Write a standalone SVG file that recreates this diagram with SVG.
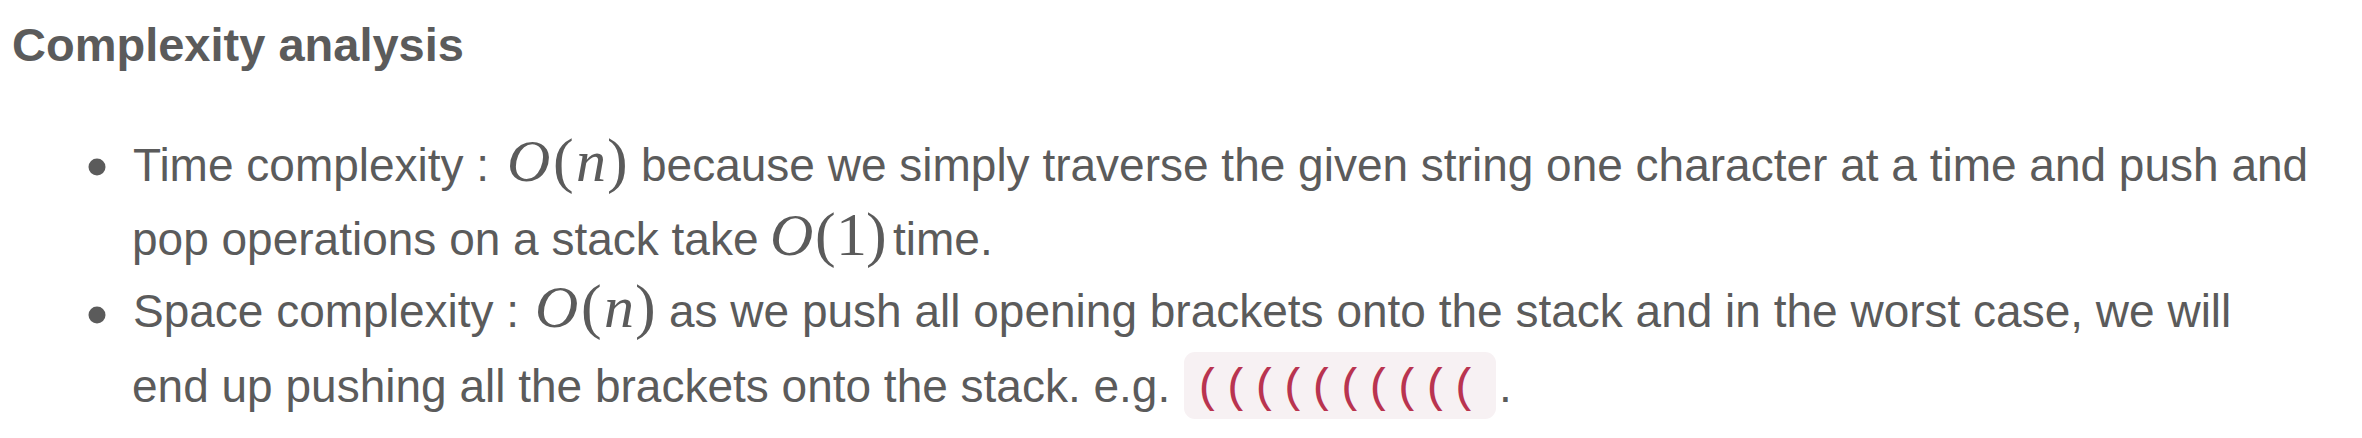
<svg xmlns="http://www.w3.org/2000/svg" width="2362" height="438" viewBox="0 0 2362 438">
<style>
.t{font-family:"Liberation Sans",Arial,sans-serif;font-size:46px;fill:#5b5b5b}
.h{font-family:"Liberation Sans",Arial,sans-serif;font-size:47px;font-weight:bold;fill:#5b5b5b}
.mi{font-family:"Liberation Serif","Times New Roman",serif;font-size:60px;font-style:italic;fill:#5b5b5b}
.mr{font-family:"Liberation Serif","Times New Roman",serif;font-size:62px;fill:#5b5b5b}
.code{font-family:"Liberation Mono","Courier New",monospace;font-size:47px;fill:#b93450;letter-spacing:0.3px}
.dot{fill:#5b5b5b}
</style>
<rect width="2362" height="438" fill="#ffffff"/>
<g id="title">
<text class="h" x="12" y="61">Complexity analysis</text>
</g>
<g id="bullet-time">
<circle class="dot" cx="97" cy="167" r="8.5"/>
<text class="t" x="133" y="181">Time complexity :</text>
<text class="mi" x="507" y="181">O</text>
<text class="mr" x="553" y="181">(</text>
<text class="mi" x="576" y="181">n</text>
<text class="mr" x="607" y="181">)</text>
<text class="t" x="641" y="181">because we simply traverse the given string one character at a time and push and</text>
<text class="t" x="132" y="255">pop operations on a stack take</text>
<text class="mi" x="770" y="255">O</text>
<text class="mr" x="815" y="255">(</text>
<text class="mr" x="836" y="255">1</text>
<text class="mr" x="866" y="255">)</text>
<text class="t" x="893" y="255">time.</text>
</g>
<g id="bullet-space">
<circle class="dot" cx="97" cy="315" r="8.5"/>
<text class="t" x="133" y="327">Space complexity :</text>
<text class="mi" x="535" y="327">O</text>
<text class="mr" x="581" y="327">(</text>
<text class="mi" x="604" y="327">n</text>
<text class="mr" x="635" y="327">)</text>
<text class="t" x="669" y="327">as we push all opening brackets onto the stack and in the worst case, we will</text>
<text class="t" x="132" y="402">end up pushing all the brackets onto the stack. e.g.</text>
<rect x="1184" y="352" width="312" height="67" rx="11" fill="#f7f1f3"/>
<text class="code" x="1194" y="401">((((((((((</text>
<text class="t" x="1499" y="402">.</text>
</g>
</svg>
